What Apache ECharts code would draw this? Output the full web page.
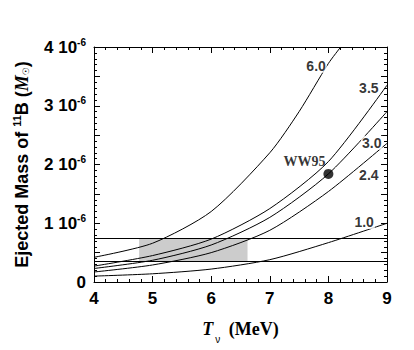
<!DOCTYPE html>
<html>
<head>
<meta charset="utf-8">
<script src="https://cdn.jsdelivr.net/npm/echarts@6/dist/echarts.min.js"></script>
<style>
  html, body { margin: 0; padding: 0; background: #fff; }
  #chart { width: 414px; height: 350px; }
</style>
</head>
<body>
<div id="chart"></div>
<script>
// neutrino temperature (MeV) and ejected 11B mass (units of 1e-6 Msun)
const tempX = [4, 5, 6, 7, 8, 9];
const curve10 = [0.10, 0.14, 0.22, 0.38, 0.67, 1.00];
const curve24 = [0.17, 0.29, 0.50, 0.88, 1.54, 2.36];
const curve30 = [0.23, 0.37, 0.63, 1.10, 1.84, 2.90];
const curve35 = [0.27, 0.45, 0.73, 1.25, 2.05, 3.35];
const curve60X = [4, 5, 6, 7, 7.5, 8, 8.21];
const curve60 = [0.42, 0.66, 1.20, 2.20, 2.90, 3.72, 4.00];
const curveNames = ['6.0', '3.5', '3.0', '2.4', '1.0'];
const labelPos = [[7.79, 3.68], [8.69, 3.30], [8.74, 2.37], [8.69, 1.82], [8.61, 1.02]];
const ww95 = [8, 1.84];
const bandLow = 0.35;
const bandHigh = 0.74;
const boxX = [4.77, 6.62];
const xTicks = [4, 5, 6, 7, 8, 9];
const yTicks = [0, 1, 2, 3, 4];

const bold = 'Liberation Sans';
const serif = 'Liberation Serif';

function pairs(xs, ys) {
    return xs.map((x, i) => [x, ys[i]]);
}

function curve(xs, ys) {
    return {
        type: 'line',
        data: pairs(xs, ys),
        showSymbol: false,
        smooth: 0.25,
        lineStyle: { color: '#000', width: 1 },
        z: 3,
        silent: true
    };
}

// frame axis: ticks pointing inward
function frameAxis(extra) {
    return Object.assign({
        type: 'value',
        axisLine: { show: true, onZero: false, lineStyle: { color: '#000' } },
        axisTick: { show: true, inside: true, length: 6, lineStyle: { color: '#000' } },
        minorTick: { show: true, splitNumber: 5, length: 3, lineStyle: { color: '#000' } },
        splitLine: { show: false }
    }, extra);
}

const chart = echarts.init(document.getElementById('chart'), null, { renderer: 'svg' });

const option = {
    animation: false,
    grid: { left: 94, right: 27, top: 47, bottom: 68 },
    xAxis: [
        frameAxis({
            min: 4, max: 9, interval: 1, position: 'bottom',
            axisLabel: {
                fontFamily: bold, fontWeight: 'bold', fontSize: 17, color: '#000', margin: 8,
                formatter: v => xTicks.includes(v) ? String(v) : ''
            },
            name: '{t|T}{s|ν}{u| (MeV)}',
            nameLocation: 'middle',
            nameGap: 38,
            nameTextStyle: {
                rich: {
                    t: { fontFamily: serif, fontStyle: 'italic', fontWeight: 'bold', fontSize: 18, color: '#000' },
                    s: { fontFamily: bold, fontSize: 10, color: '#000', padding: [0, 4, -20, 2] },
                    u: { fontFamily: serif, fontWeight: 'bold', fontSize: 18, color: '#000' }
                }
            }
        }),
        frameAxis({ min: 4, max: 9, interval: 1, position: 'top', axisLabel: { show: false } })
    ],
    yAxis: [
        frameAxis({
            min: 0, max: 4, interval: 0.5, position: 'left',
            axisLabel: {
                margin: 8,
                formatter: v => {
                    if (!yTicks.includes(v)) return '';
                    return v === 0 ? '{n|0}' : '{n|' + v + ' 10}{e|-6}';
                },
                rich: {
                    n: { fontFamily: bold, fontWeight: 'bold', fontSize: 17, color: '#000' },
                    e: { fontFamily: bold, fontWeight: 'bold', fontSize: 10, color: '#000', padding: [0, 0, 10, 0] }
                }
            },
            name: '{a|Ejected Mass of }{b|11}{a|B (}{m|M}{o|☉}{a|)}',
            nameLocation: 'middle',
            nameRotate: 90,
            nameGap: 62,
            nameTextStyle: {
                rich: {
                    a: { fontFamily: bold, fontWeight: 'bold', fontSize: 18, color: '#000' },
                    b: { fontFamily: bold, fontWeight: 'bold', fontSize: 11, color: '#000', padding: [0, 0, 10, 0] },
                    m: { fontFamily: serif, fontStyle: 'italic', fontWeight: 'bold', fontSize: 18, color: '#000' },
                    o: { fontFamily: 'DejaVu Sans', fontSize: 9, color: '#000', padding: [0, 0, -8, 0] }
                }
            }
        }),
        frameAxis({ min: 0, max: 4, interval: 0.5, position: 'right', axisLabel: { show: false } })
    ],
    series: [
        {
            type: 'line',
            data: [],
            markArea: {
                silent: true,
                itemStyle: { color: '#cccccc' },
                data: [[{ xAxis: boxX[0], yAxis: bandLow }, { xAxis: boxX[1], yAxis: bandHigh }]]
            },
            markLine: {
                silent: true,
                symbol: 'none',
                label: { show: false },
                lineStyle: { color: '#000', width: 1, type: 'solid' },
                data: [{ yAxis: bandLow }, { yAxis: bandHigh }]
            },
            z: 1
        },
        curve(curve60X, curve60),
        curve(tempX, curve35),
        curve(tempX, curve30),
        curve(tempX, curve24),
        curve(tempX, curve10),
        {
            type: 'scatter',
            data: [ww95],
            symbolSize: 10,
            itemStyle: { color: '#000' },
            label: {
                show: true,
                formatter: 'WW95',
                position: 'left',
                offset: [2, -12],
                distance: 0,
                fontFamily: serif,
                fontWeight: 'bold',
                fontSize: 14,
                color: '#000'
            },
            z: 4,
            silent: true
        },
        {
            type: 'scatter',
            data: labelPos.map((p, i) => ({ value: p, name: curveNames[i] })),
            symbolSize: 1,
            itemStyle: { color: 'rgba(0,0,0,0)' },
            label: {
                show: true,
                position: 'inside',
                formatter: p => p.name,
                fontFamily: bold,
                fontWeight: 'bold',
                fontSize: 14,
                color: '#000',
                backgroundColor: '#fff',
                padding: [0, 1]
            },
            z: 5,
            silent: true
        }
    ]
};
chart.setOption(option);
</script>
</body>
</html>
